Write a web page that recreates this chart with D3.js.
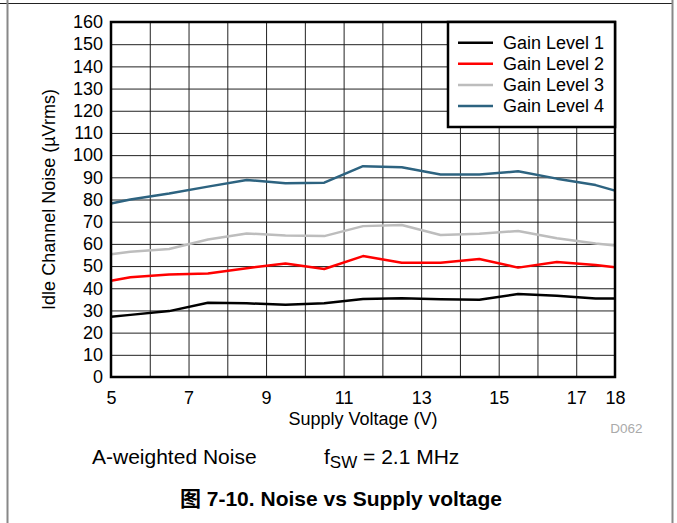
<!DOCTYPE html>
<html>
<head>
<meta charset="utf-8">
<script src="https://cdn.jsdelivr.net/npm/d3@7"></script>
<style>
  body { margin: 0; background: #fff; }
  svg { display: block; }
</style>
</head>
<body>
<div class="area"></div>
<script>
var voltage = [5, 5.5, 6.5, 7.5, 8.5, 9.5, 10.5, 11.5, 12.5, 13.5, 14.5, 15.5, 16.5, 17.5, 18];
var gain1 = [27.2, 28.0, 29.7, 33.5, 33.2, 32.6, 33.2, 35.2, 35.5, 35.0, 34.8, 37.4, 36.6, 35.4, 35.4];
var gain2 = [43.4, 45.0, 46.2, 46.6, 49.0, 51.2, 48.7, 54.5, 51.5, 51.5, 53.2, 49.3, 51.8, 50.5, 49.5];
var gain3 = [55.3, 56.4, 57.7, 62.0, 64.7, 63.8, 63.5, 68.0, 68.5, 64.0, 64.6, 65.8, 62.5, 60.2, 59.3];
var gain4 = [78.2, 80.0, 82.7, 85.8, 88.8, 87.3, 87.6, 95.0, 94.5, 91.3, 91.3, 92.7, 89.4, 86.5, 84.0];
var seriesNames = ['Gain Level 1', 'Gain Level 2', 'Gain Level 3', 'Gain Level 4'];
var seriesColors = ['#000000', '#ff0000', '#bdbdbd', '#2d6380'];
var xGrid = [5, 6, 7, 8, 9, 10, 11, 12, 13, 14, 15, 16, 17, 18];
var xLabels = [5, 7, 9, 11, 13, 15, 17, 18];
var yTicks = [0, 10, 20, 30, 40, 50, 60, 70, 80, 90, 100, 110, 120, 130, 140, 150, 160];

var font = "Arial, 'Liberation Sans', Helvetica, 'Noto Sans CJK SC', sans-serif";
var W = 677, H = 523;
var pLeft = 111, pTop = 22, pRight = 615, pBottom = 377;

var svg = d3.select(".area")
    .append("svg")
    .attr('width', W)
    .attr('height', H)

// outer page frame
svg.append("line")
    .attr("x1", 0).attr("y1", 3.5).attr("x2", 673).attr("y2", 3.5)
    .style("stroke", "#222").style("stroke-width", 1)
svg.append("line")
    .attr("x1", 7.5).attr("y1", 0).attr("x2", 7.5).attr("y2", H)
    .style("stroke", "#888").style("stroke-width", 2)
svg.append("line")
    .attr("x1", 672.5).attr("y1", 0).attr("x2", 672.5).attr("y2", H)
    .style("stroke", "#888").style("stroke-width", 2)

var x = d3.scaleLinear().domain([5, 18]).range([pLeft, pRight]);
var y = d3.scaleLinear().domain([0, 160]).range([pBottom, pTop]);

// y grid + labels
var yAxis = svg.append("g")
    .attr("transform", "translate(" + pLeft + ",0)")
    .call(d3.axisLeft(y).tickValues(yTicks).tickSize(-(pRight - pLeft)).tickPadding(8))
yAxis.select(".domain").remove()
yAxis.selectAll("line").style("stroke", "#222").style("stroke-width", 1)
yAxis.selectAll("text")
    .style("font-size", "18px")
    .attr("font-family", font)
    .attr("fill", "#000")

// x grid + labels
var xAxis = svg.append("g")
    .attr("transform", "translate(0," + pBottom + ")")
    .call(d3.axisBottom(x).tickValues(xGrid).tickSize(-(pBottom - pTop)).tickPadding(14)
        .tickFormat(function (d) { return xLabels.indexOf(d) >= 0 ? d : ""; }))
xAxis.select(".domain").remove()
xAxis.selectAll("line").style("stroke", "#222").style("stroke-width", 1)
xAxis.selectAll("text")
    .style("font-size", "18px")
    .attr("font-family", font)
    .attr("fill", "#000")

// series lines
var allSeries = [gain1, gain2, gain3, gain4];
var line = d3.line()
    .x(function (d, i) { return x(voltage[i]); })
    .y(function (d) { return y(d); })

for (var i = 0; i < allSeries.length; i++) {
    svg.append("path")
        .datum(allSeries[i])
        .attr("d", line)
        .attr("fill", "none")
        .attr("stroke", seriesColors[i])
        .attr("stroke-width", 2.5)
        .attr("stroke-linejoin", "round")
}

// plot border
svg.append("rect")
    .attr("x", pLeft).attr("y", pTop)
    .attr("width", pRight - pLeft).attr("height", pBottom - pTop)
    .attr("fill", "none")
    .attr("stroke", "#000")
    .attr("stroke-width", 2.5)

// legend
var lgX = 448, lgY = pTop, lgW = pRight - 448, lgH = 127 - pTop;
svg.append("rect")
    .attr("x", lgX).attr("y", lgY)
    .attr("width", lgW).attr("height", lgH)
    .attr("fill", "#fff")
    .attr("stroke", "#000")
    .attr("stroke-width", 2.5)

for (var j = 0; j < seriesNames.length; j++) {
    var ly = 42.7 + j * 21.1;
    svg.append("line")
        .attr("x1", 458).attr("y1", ly).attr("x2", 493).attr("y2", ly)
        .style("stroke", seriesColors[j])
        .style("stroke-width", 2.5)
    svg.append("text")
        .attr("x", 503)
        .attr("y", ly)
        .attr("dy", "0.35em")
        .text(seriesNames[j])
        .style("font-size", "18px")
        .attr("font-family", font)
        .attr("fill", "#000")
}

// axis titles
svg.append("text")
    .attr("transform", "translate(55," + ((pTop + pBottom) / 2) + ") rotate(-90)")
    .attr("text-anchor", "middle")
    .text("Idle Channel Noise (\u00b5Vrms)")
    .style("font-size", "18px")
    .attr("font-family", font)
    .attr("fill", "#000")

svg.append("text")
    .attr("x", (pLeft + pRight) / 2)
    .attr("y", 425)
    .attr("text-anchor", "middle")
    .text("Supply Voltage (V)")
    .style("font-size", "18px")
    .attr("font-family", font)
    .attr("fill", "#000")

svg.append("text")
    .attr("x", 642.5)
    .attr("y", 432.5)
    .attr("text-anchor", "end")
    .text("D062")
    .style("font-size", "13.5px")
    .attr("font-family", font)
    .attr("fill", "#aaa")

// notes under the chart
svg.append("text")
    .attr("x", 92)
    .attr("y", 464)
    .text("A-weighted Noise")
    .style("font-size", "21px")
    .attr("font-family", font)
    .attr("fill", "#000")

var fsw = svg.append("text")
    .attr("x", 324)
    .attr("y", 464)
    .style("font-size", "21px")
    .attr("font-family", font)
    .attr("fill", "#000")
fsw.append("tspan").text("f")
fsw.append("tspan").text("SW").attr("dy", 4).style("font-size", "17px")
fsw.append("tspan").text(" = 2.1 MHz").attr("dy", -4)

svg.append("text")
    .attr("x", 341)
    .attr("y", 506)
    .attr("text-anchor", "middle")
    .text("\u56fe 7-10. Noise vs Supply voltage")
    .style("font-size", "21px")
    .style("font-weight", "bold")
    .attr("font-family", font)
    .attr("fill", "#000")
</script>
</body>
</html>
